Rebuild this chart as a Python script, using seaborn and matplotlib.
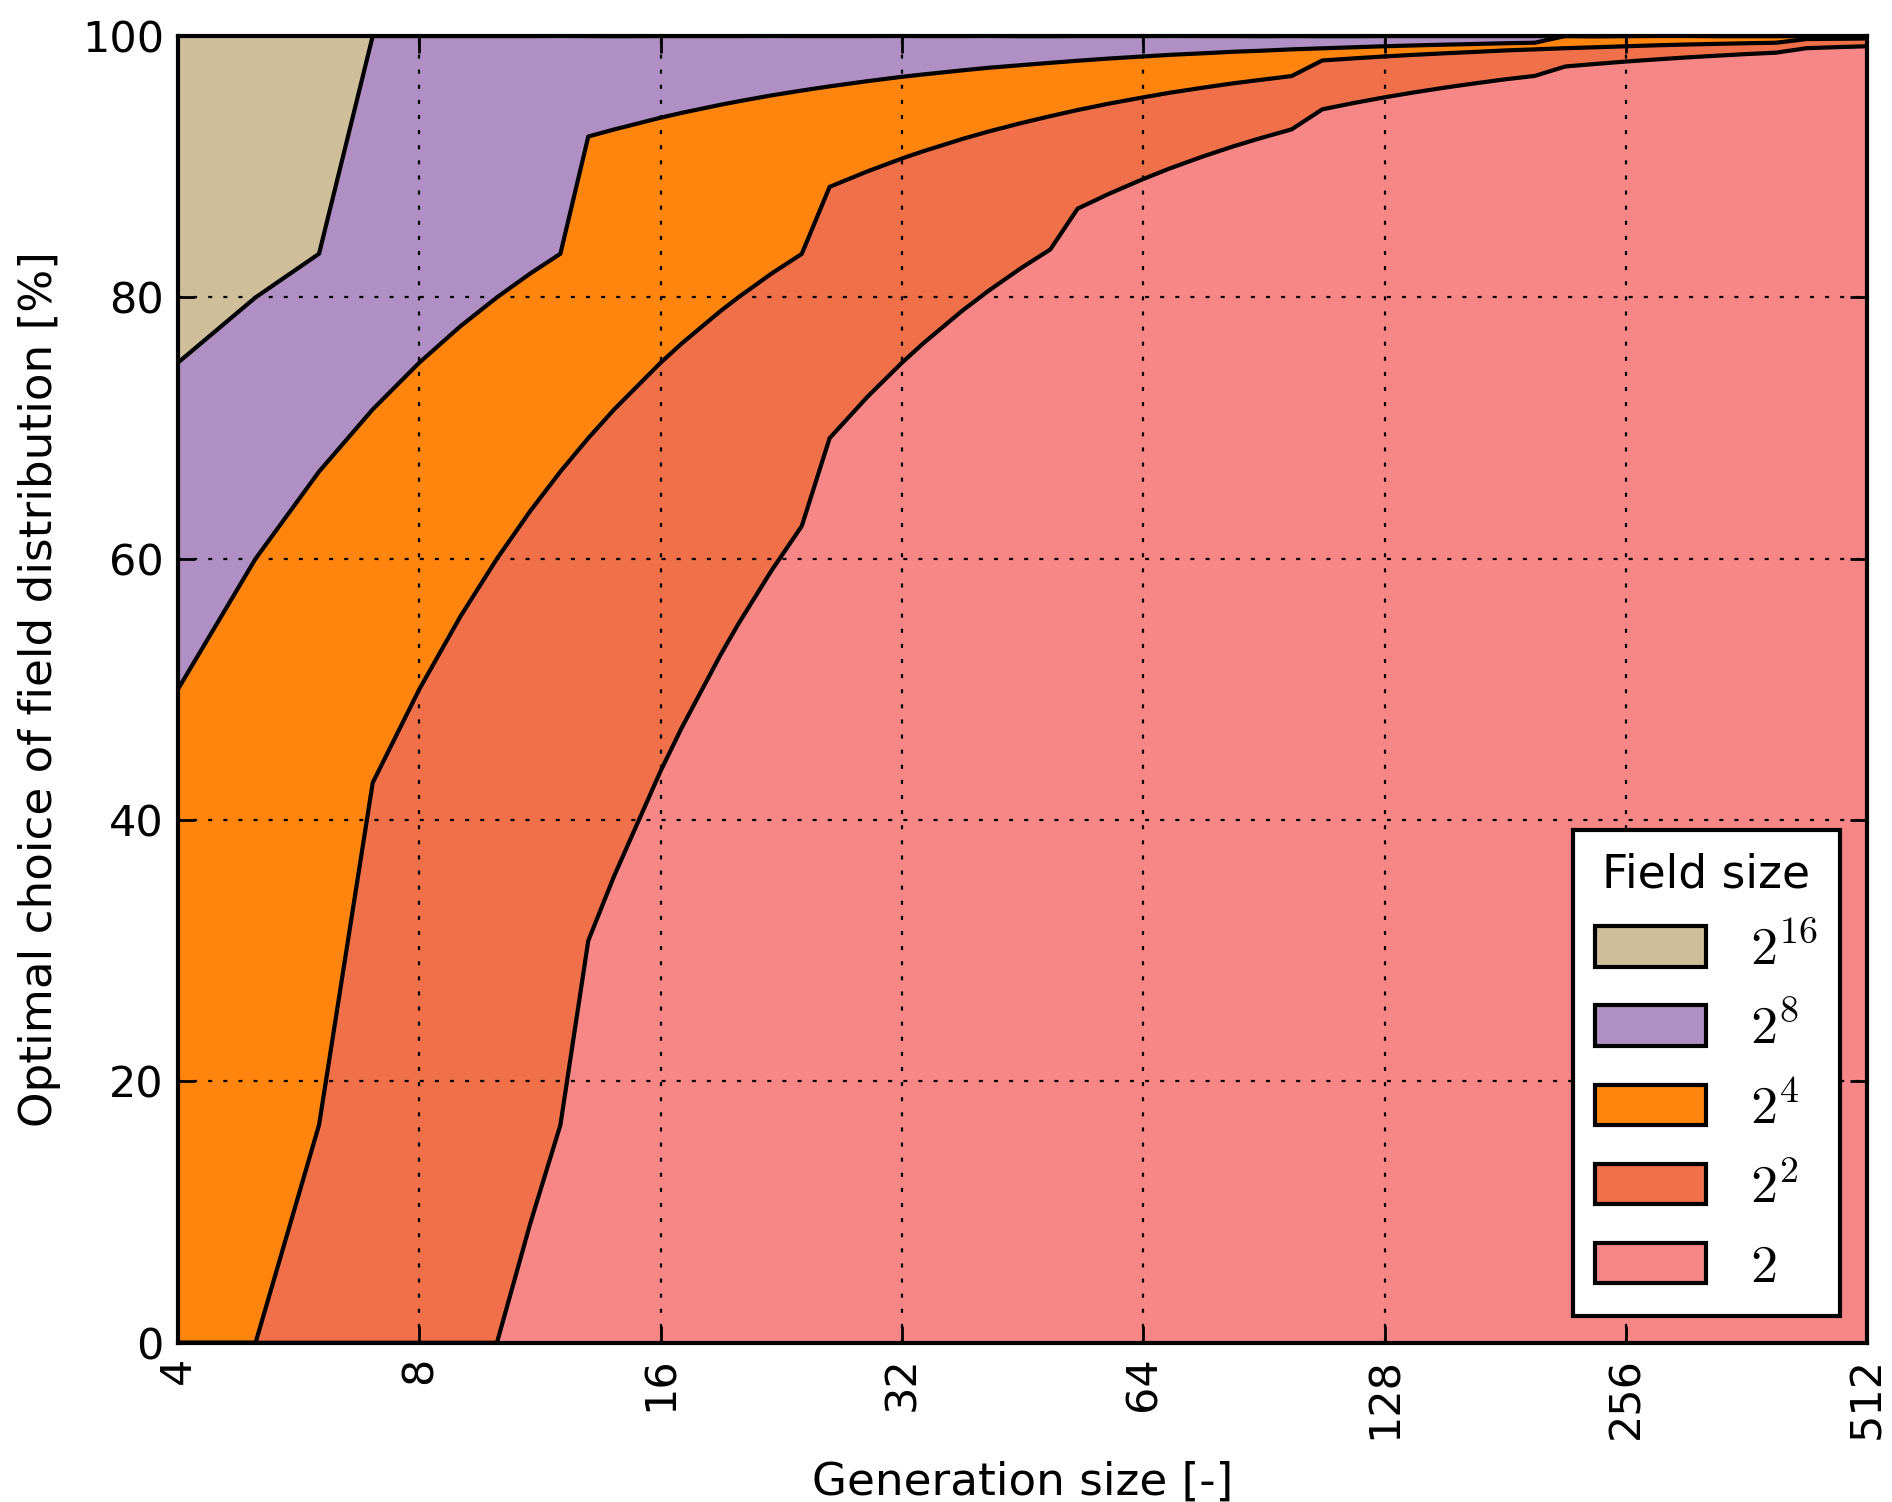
import numpy as np
import pandas as pd
import matplotlib
matplotlib.use("Agg")
import matplotlib.pyplot as plt
from matplotlib.patches import Patch
import seaborn as sns

# Generation sizes (log2-spaced, truncated to integers)
generation_size = [4, 5, 6, 7, 8, 9, 10, 11, 12, 13, 14, 16, 17, 19, 20, 22, 24, 26,
                   29, 32, 34, 38, 41, 45, 49, 53, 58, 64, 69, 76, 83, 90, 98, 107,
                   117, 128, 139, 152, 165, 181, 197, 215, 234, 256, 279, 304, 331,
                   362, 394, 430, 469, 512]

# Share [%] of cases where each field size is the optimal choice
share_2 = [0, 0, 0, 0, 0, 0, 0, 9.09, 16.67, 30.77, 35.71, 43.75, 47.06, 52.63, 55.00,
           59.09, 62.50, 69.23, 72.41, 75.00, 76.47, 78.95, 80.49, 82.22, 83.67, 86.79,
           87.93, 89.06, 89.86, 90.79, 91.57, 92.22, 92.86, 94.39, 94.87, 95.31, 95.68,
           96.05, 96.36, 96.69, 96.95, 97.67, 97.86, 98.05, 98.21, 98.36, 98.49, 98.62,
           98.73, 99.07, 99.15, 99.22]
share_2_2 = [0, 0, 16.67, 42.86, 50.00, 55.56, 60.00, 54.55, 50.00, 38.46, 35.71, 31.25,
             29.41, 26.32, 25.00, 22.73, 20.83, 19.23, 17.24, 15.63, 14.71, 13.16, 12.20,
             11.11, 10.20, 7.55, 6.90, 6.25, 5.80, 5.26, 4.82, 4.44, 4.08, 3.74, 3.42,
             3.13, 2.88, 2.63, 2.42, 2.21, 2.03, 1.40, 1.28, 1.17, 1.08, 0.99, 0.91,
             0.83, 0.76, 0.70, 0.64, 0.59]
share_2_4 = [50.00, 60.00, 50.00, 28.57, 25.00, 22.22, 20.00, 18.18, 16.67, 23.08, 21.43,
             18.75, 17.65, 15.79, 15.00, 13.64, 12.50, 7.69, 6.90, 6.25, 5.88, 5.26, 4.88,
             4.44, 4.08, 3.77, 3.45, 3.13, 2.90, 2.63, 2.41, 2.22, 2.04, 0.93, 0.85, 0.78,
             0.72, 0.66, 0.61, 0.55, 0.51, 0.93, 0.85, 0.78, 0.72, 0.66, 0.60, 0.55, 0.51,
             0.23, 0.21, 0.20]
share_2_8 = [25.00, 20.00, 16.67, 28.57, 25.00, 22.22, 20.00, 18.18, 16.67, 7.69, 7.14,
             6.25, 5.88, 5.26, 5.00, 4.55, 4.17, 3.85, 3.45, 3.13, 2.94, 2.63, 2.44, 2.22,
             2.04, 1.89, 1.72, 1.56, 1.45, 1.32, 1.20, 1.11, 1.02, 0.93, 0.85, 0.78, 0.72,
             0.66, 0.61, 0.55, 0.51, 0, 0, 0, 0, 0, 0, 0, 0, 0, 0, 0]
share_2_16 = [25.00, 20.00, 16.67, 0, 0, 0, 0, 0, 0, 0, 0, 0, 0, 0, 0, 0, 0, 0, 0, 0, 0,
              0, 0, 0, 0, 0, 0, 0, 0, 0, 0, 0, 0, 0, 0, 0, 0, 0, 0, 0, 0, 0, 0, 0, 0, 0,
              0, 0, 0, 0, 0, 0]

field_labels = ["$2$", "$2^{2}$", "$2^{4}$", "$2^{8}$", "$2^{16}$"]
field_colors = ["#F78787", "#F0704A", "#FF850E", "#AF8FC4", "#CEBE9A"]
x_ticks = [4, 8, 16, 32, 64, 128, 256, 512]
y_ticks = [0, 20, 40, 60, 80, 100]

df = pd.DataFrame({
    "size": generation_size,
    "2": share_2, "4": share_2_2, "16": share_2_4, "256": share_2_8, "65536": share_2_16,
})
layers = ["2", "4", "16", "256", "65536"]
cumulative = df[layers].cumsum(axis=1)

sns.set_theme(style="ticks")
plt.rcParams["font.family"] = ["DejaVu Sans"]
plt.rcParams["mathtext.fontset"] = "cm"
for key in ["text.color", "axes.labelcolor", "xtick.color", "ytick.color",
            "axes.edgecolor"]:
    plt.rcParams[key] = "black"

fig = plt.figure(figsize=(9.46, 7.51), dpi=200)
ax = fig.add_axes([0.094, 0.106, 0.893, 0.870])

ax.stackplot(df["size"], *[df[c] for c in layers], colors=field_colors,
             linewidth=0, zorder=1)

# black boundaries between the stacked layers
for c in layers[:-1]:
    sns.lineplot(x=df["size"], y=cumulative[c], color="black", linewidth=1.5,
                 ax=ax, legend=False, zorder=2, sort=True)

ax.set_xscale("log", base=2)
ax.set_xlim(4, 512)
ax.set_ylim(0, 100)
ax.set_xticks(x_ticks)
ax.set_xticklabels([str(t) for t in x_ticks], rotation=90)
ax.xaxis.set_minor_locator(matplotlib.ticker.NullLocator())
ax.set_yticks(y_ticks)

ax.grid(True, color="black", linestyle=(0, (1.8, 5)), linewidth=0.8)
ax.set_axisbelow(False)

ax.tick_params(axis="both", which="major", direction="in", length=6, width=1,
               top=True, right=True, labelsize=15.5, pad=5, color="black",
               labelcolor="black")
for s in ax.spines.values():
    s.set_linewidth(1.5)
    s.set_color("black")

ax.set_xlabel("Generation size [-]", fontsize=16.3, labelpad=8)
ax.set_ylabel("Optimal choice of field distribution [%]", fontsize=16.3, labelpad=7.5)

handles = [Patch(facecolor=col, edgecolor="black", linewidth=1.5)
           for col in field_colors][::-1]
leg = ax.legend(handles, field_labels[::-1], title="Field size", loc="lower right",
                fontsize=19.5, title_fontsize=16.4, frameon=True, fancybox=False,
                framealpha=1, edgecolor="black", handlelength=2.05, handleheight=0.78,
                labelspacing=0.5, handletextpad=0.8, borderpad=0.42,
                borderaxespad=0.5)
leg.get_frame().set_linewidth(1.5)
leg.set_zorder(5)

fig.savefig("out.png", dpi=200)
